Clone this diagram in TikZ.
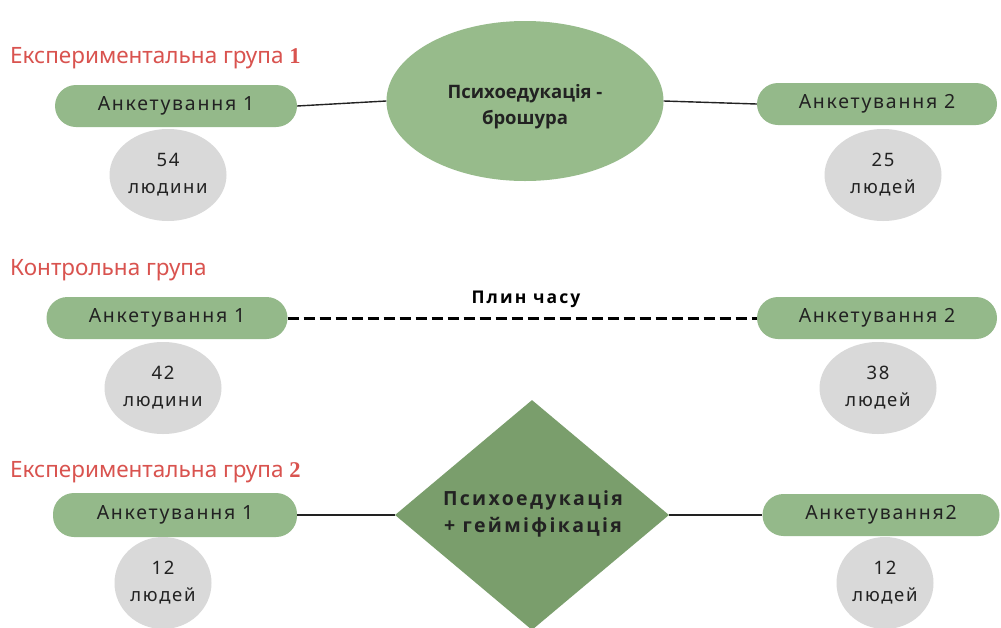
\documentclass[tikz,border=0pt]{standalone}
\usepackage{fontspec}
\setmainfont{Noto Sans}
\newfontfamily\robo[LetterSpace=9]{Noto Sans}
\newfontfamily\robob[LetterSpace=12]{Open Sans}
\newfontfamily\titlefont{Noto Sans}
\newfontfamily\digfont{Liberation Serif}
\newfontfamily\ellfont{Open Sans}
\usetikzlibrary{shapes.geometric}
\definecolor{pillgreen}{HTML}{94B98A}
\definecolor{ellgreen}{HTML}{97BB8B}
\definecolor{diagreen}{HTML}{7A9E6C}
\definecolor{greyfill}{HTML}{D9D9D9}
\definecolor{titlered}{HTML}{D9534F}
\definecolor{txt}{HTML}{222222}
\tikzset{
  pill/.style={rectangle, rounded corners=21pt, fill=pillgreen, minimum width=242pt, minimum height=42pt, inner sep=0pt, text=txt, font=\robo\fontsize{19.5}{22}\selectfont},
  count/.style={ellipse, fill=greyfill, minimum width=117pt, minimum height=92pt, inner sep=0pt, align=center, text=txt, font=\robo\fontsize{18.5}{27}\selectfont},
  countc/.style={count, minimum width=97pt},
  grptitle/.style={anchor=west, text=titlered, inner sep=0pt, font=\titlefont\fontsize{22.5}{26}\selectfont},
  conn/.style={draw=txt, line width=1.4pt},
}
\begin{document}
\begin{tikzpicture}[x=1pt,y=-1pt]
\useasboundingbox[fill=white] (0,0) rectangle (1001,627);
% Group 1
\node[grptitle] (t1) at (10,58) {Експериментальна група {\digfont\bfseries 1}};
\node[pill] (p11) at (176,106) {Анкетування 1};
\node[count] (c11) at (168,175) {54\\людини};
\node[ellipse, fill=ellgreen, minimum width=277pt, minimum height=160pt, inner sep=0pt] (e1) at (525,101) {};
\node[align=center, text=txt, font=\ellfont\bfseries\fontsize{18.5}{26}\selectfont] (e1t) at (525,107) {Психоедукація -\\брошура};
\node[pill, minimum width=240pt] (p12) at (877,104) {Анкетування 2};
\node[count] (c12) at (883,175) {25\\людей};
\draw[conn] (p11.east) -- (e1.west);
\draw[conn] (e1.east) -- (p12.west);
% Control group
\node[grptitle] (t2) at (10,270) {Контрольна група};
\node[pill, minimum width=241pt] (p21) at (167,318) {Анкетування 1};
\node[count] (c21) at (163,388) {42\\людини};
\node[pill, minimum width=240pt] (p22) at (877,318) {Анкетування 2};
\node[count] (c22) at (878,388) {38\\людей};
\draw[draw=black, line width=3pt, dash pattern=on 11pt off 5pt] (p21.east) -- (p22.west);
\node[text=black, font=\robob\bfseries\fontsize{17.5}{20}\selectfont] (plyn) at (526,299) {Плин часу};
% Group 2
\node[grptitle] (t3) at (10,472) {Експериментальна група {\digfont\bfseries 2}};
\node[pill, minimum width=244pt, minimum height=44pt] (p31) at (175,515) {Анкетування 1};
\node[countc] (c31) at (163,583) {12\\людей};
\node[diamond, fill=diagreen, minimum width=274pt, minimum height=230pt, inner sep=0pt] (d3) at (532,515) {};
\node[align=center, text=txt, font=\robob\bfseries\fontsize{19.5}{27}\selectfont] (d3t) at (533,514) {Психоедукація\\+ гейміфікація};
\node[pill, minimum width=237pt] (p32) at (881,515) {Анкетування2};
\node[countc] (c32) at (885,583) {12\\людей};
\draw[conn] (p31.east) -- (d3.west);
\draw[conn] (d3.east) -- (p32.west);
\end{tikzpicture}
\end{document}
